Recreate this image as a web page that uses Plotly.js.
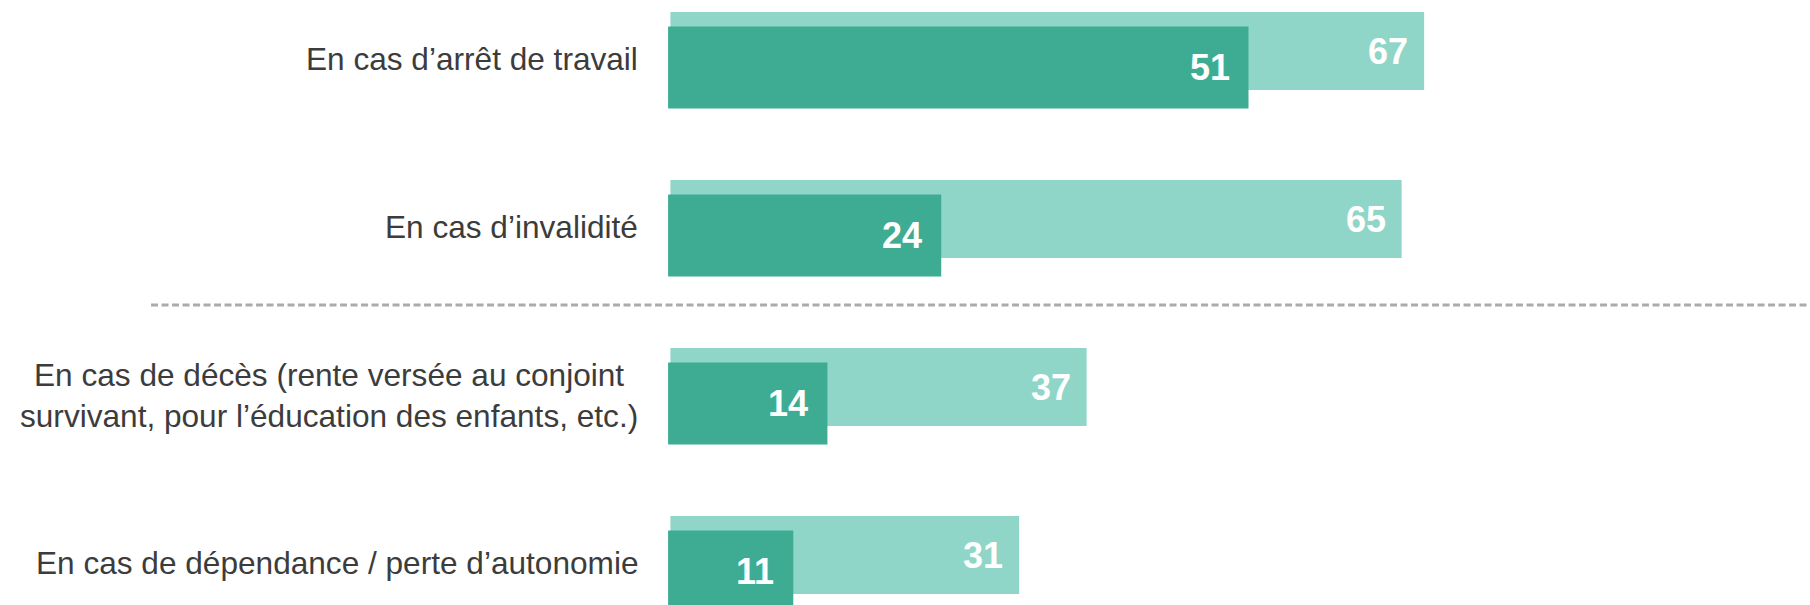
<!DOCTYPE html>
<html>
<head>
<meta charset="utf-8">
<script src="https://cdn.plot.ly/plotly-3.0.1.min.js"></script>
<style>
  html, body { margin: 0; padding: 0; background: #ffffff; }
  #chart { width: 1810px; height: 605px; }
</style>
</head>
<body>
<div id="chart"></div>
<script>
// ---- Data ----
const categories = [
  "En cas d’arrêt de travail",
  "En cas d’invalidité",
  "En cas de décès (rente versée au conjoint<br>survivant, pour l’éducation des enfants, etc.)",
  "En cas de dépendance / perte d’autonomie"
];
const lightValues = [67, 65, 37, 31];
const darkValues = [51, 24, 14, 11];

// ---- Styles ----
const lightColor = "#8fd6c8";
const darkColor = "#3eac93";
const textColor = "#3c3c3c";
const fontFamily = "'Liberation Sans', Arial, sans-serif";

const traces = [
  {
    type: "bar",
    orientation: "h",
    x: lightValues,
    y: categories,
    xaxis: "x",
    yaxis: "y",
    width: 0.464,
    offset: -0.281,
    marker: { color: lightColor, line: { width: 0 } },
    hoverinfo: "skip",
    showlegend: false
  },
  {
    type: "bar",
    orientation: "h",
    x: darkValues,
    y: categories,
    xaxis: "x2",
    yaxis: "y",
    width: 0.488,
    offset: -0.195,
    marker: { color: darkColor, line: { width: 0 } },
    hoverinfo: "skip",
    showlegend: false
  }
];

const annotations = [];
categories.forEach((c, i) => {
  // category labels (centered multi-line, right-anchored)
  annotations.push({
    xref: "paper", yref: "y",
    x: 0, y: c,
    xanchor: "right", yanchor: "middle",
    xshift: -5,
    align: "center",
    text: c,
    showarrow: false,
    font: { family: fontFamily, size: 31.6, color: textColor }
  });
  // light values
  annotations.push({
    xref: "x", yref: "y",
    x: lightValues[i], y: c,
    xanchor: "right", yanchor: "middle",
    xshift: -14, yshift: 8.25,
    text: String(lightValues[i]),
    showarrow: false,
    font: { family: fontFamily, size: 36, color: "#ffffff", weight: "bold" }
  });
  // dark values
  annotations.push({
    xref: "x2", yref: "y",
    x: darkValues[i], y: c,
    xanchor: "right", yanchor: "middle",
    xshift: -17, yshift: -8.25,
    text: String(darkValues[i]),
    showarrow: false,
    font: { family: fontFamily, size: 36, color: "#ffffff", weight: "bold" }
  });
});

const hidden = {
  showgrid: false, zeroline: false, showline: false,
  showticklabels: false, ticks: ""
};

const layout = {
  width: 1810,
  height: 605,
  margin: { l: 645, r: 0, t: 0, b: 0, pad: 0 },
  paper_bgcolor: "#ffffff",
  plot_bgcolor: "#ffffff",
  barmode: "overlay",
  xaxis: Object.assign({ range: [-2.258, 101.30], fixedrange: true }, hidden),
  xaxis2: Object.assign({ range: [-2.03, 100.34], overlaying: "x", side: "bottom", fixedrange: true }, hidden),
  yaxis: Object.assign({
    type: "category",
    categoryorder: "array",
    categoryarray: categories,
    range: [3.2485, -0.3527],
    fixedrange: true
  }, hidden),
  annotations: annotations,
  shapes: [
    {
      type: "line",
      xref: "paper", yref: "y",
      x0: -0.424, x1: 1,
      y0: 1.463, y1: 1.463,
      line: { color: "#ababab", width: 3, dash: "7px,3.5px" }
    }
  ]
};

Plotly.newPlot("chart", traces, layout, { displayModeBar: false, staticPlot: true });
</script>
</body>
</html>
